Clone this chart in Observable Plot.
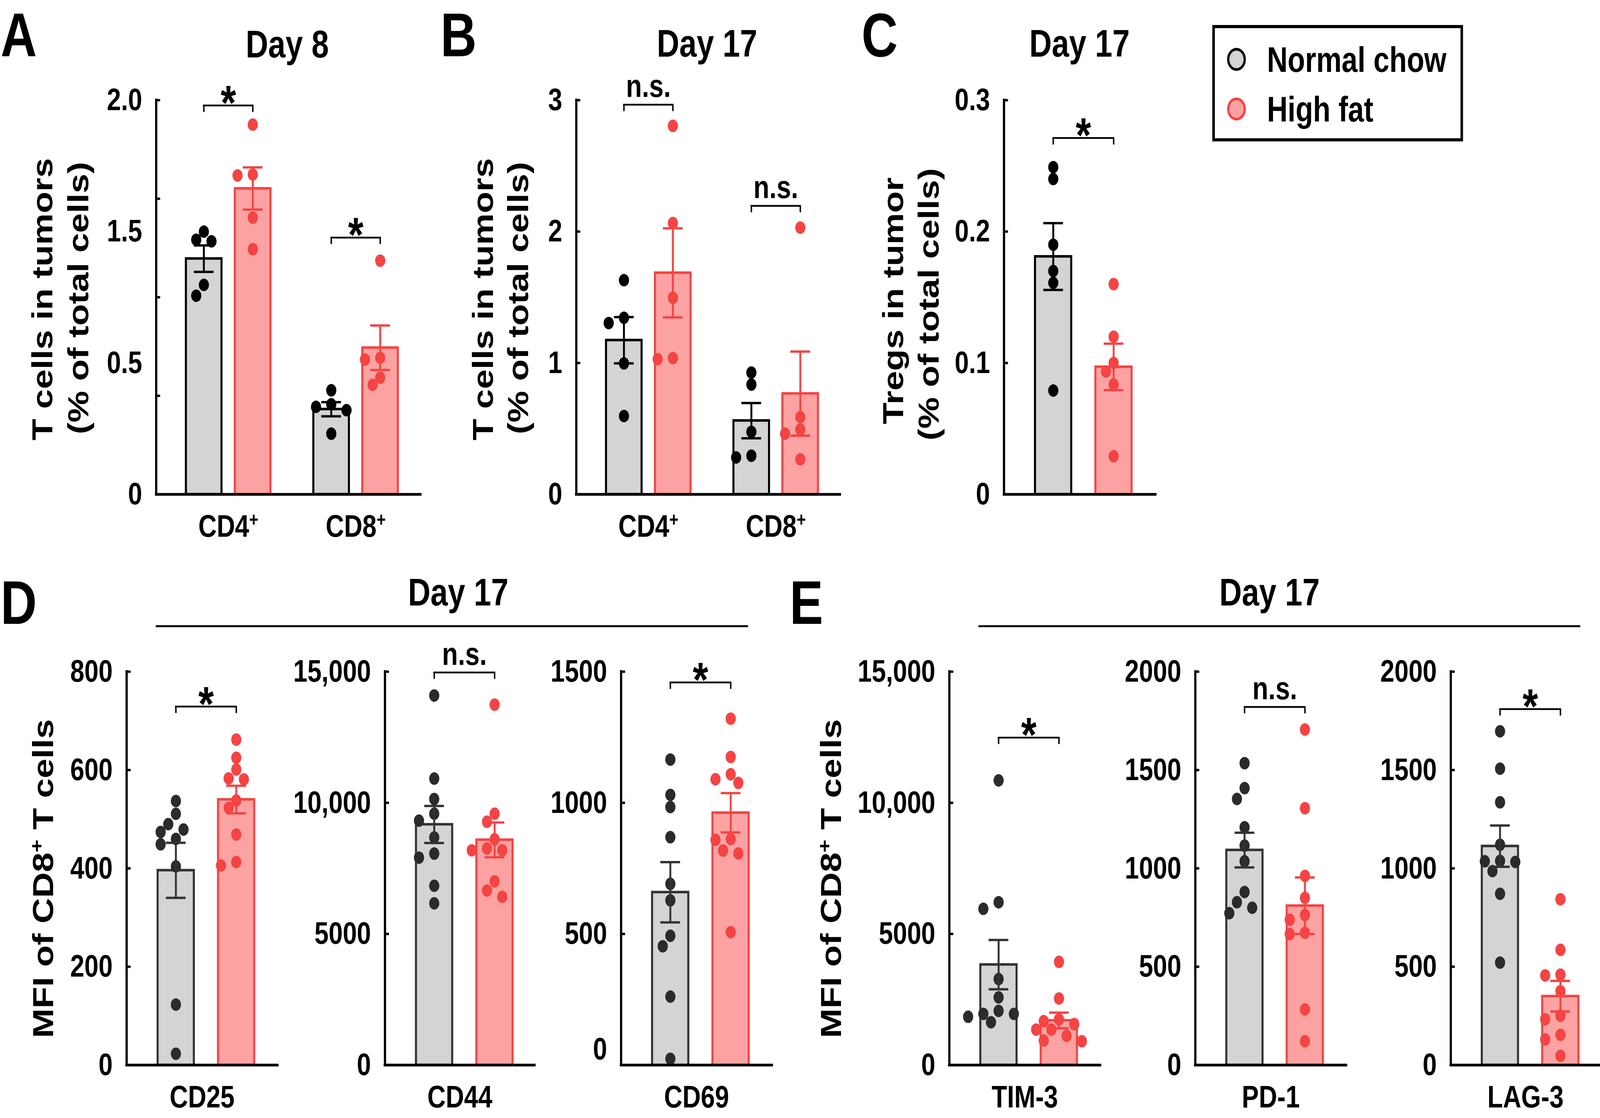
<!DOCTYPE html>
<html>
<head>
<meta charset="utf-8">
<script src="https://cdn.jsdelivr.net/npm/d3@7"></script>
<script src="https://cdn.jsdelivr.net/npm/@observablehq/plot@0.6"></script>
<style>
  html, body { margin: 0; padding: 0; background: #fff; overflow: hidden; }
  #wrap { position: relative; overflow: hidden; background: #fff; }
  #fig { position: absolute; left: 0; top: 0; width: 5035px; height: 2862px; overflow: hidden; background: #fff; transform-origin: 0 0; }
  #fig svg { position: absolute; }
</style>
</head>
<body>
<div id="wrap"><div id="fig"></div></div>
<script>
// ---------------- DATA ----------------
const diets = ["Normal chow", "High fat"];

// Panel A — Day 8, T cells in tumors (% of total cells)
const aGroups = ["CD4⁺", "CD8⁺"];
const aMeanNC = [1.196, 0.432];
const aMeanHF = [1.552, 0.744];
const aSemNC = [0.067, 0.036];
const aSemHF = [0.107, 0.113];
const aDotsNC = [[1.292, 1.333, 1.284, 1.063, 1.008], [0.528, 0.457, 0.444, 0.427, 0.308]];
const aDotsHF = [[1.876, 1.618, 1.623, 1.404, 1.244], [1.186, 0.684, 0.693, 0.592, 0.556]];
const aTickMarks = [0, 0.5, 1, 1.5, 2];
const aTickLabels = ["0", "0.5", "1.5", "2.0"];
const aSigLabels = ["*", "*"];
const aSigY = [1.973, 1.303];

// Panel B — Day 17, T cells in tumors (% of total cells)
const bGroups = ["CD4⁺", "CD8⁺"];
const bMeanNC = [1.173, 0.561];
const bMeanHF = [1.686, 0.767];
const bSemNC = [0.176, 0.134];
const bSemHF = [0.339, 0.320];
const bDotsNC = [[1.630, 1.304, 1.344, 0.997, 0.596], [0.927, 0.836, 0.476, 0.281, 0.294]];
const bDotsHF = [[2.805, 2.065, 1.496, 1.029, 1.037], [2.030, 0.588, 0.494, 0.462, 0.267]];
const bTicks = [0, 1, 2, 3];
const bTickLabels = ["0", "1", "2", "3"];
const bSigLabels = ["n.s.", "n.s."];
const bSigY = [2.966, 2.196];

// Panel C — Day 17, Tregs in tumor (% of total cells)
const cMeanNC = [0.181];
const cMeanHF = [0.097];
const cSemNC = [0.0254];
const cSemHF = [0.0177];
const cDotsNC = [[0.249, 0.240, 0.190, 0.170, 0.161, 0.079]];
const cDotsHF = [[0.160, 0.120, 0.100, 0.0935, 0.0836, 0.029]];
const cTicks = [0, 0.1, 0.2, 0.3];
const cTickLabels = ["0", "0.1", "0.2", "0.3"];
const cSigLabels = ["*"];
const cSigY = [0.2712];

// Panel D — Day 17, MFI of CD8+ T cells
const cd25MeanNC = [396], cd25MeanHF = [540], cd25SemNC = [56], cd25SemHF = [28];
const cd25DotsNC = [[511, 537, 479, 474, 490, 460, 449, 404, 123, 23]];
const cd25DotsHF = [[662, 625, 601, 581, 583, 538, 523, 469, 406, 413]];
const cd25Ticks = [0, 200, 400, 600, 800];
const cd25TickLabels = ["0", "200", "400", "600", "800"];
const cd25Sig = ["*"], cd25SigY = [729];

const cd44MeanNC = [9175], cd44MeanHF = [8588], cd44SemNC = [705], cd44SemHF = [663];
const cd44DotsNC = [[14093, 10925, 10144, 9586, 9321, 8679, 8065, 7911, 6837, 6167]];
const cd44DotsHF = [[13744, 9586, 9279, 8609, 8260, 8190, 8190, 7004, 6656, 6418]];
const cd44Ticks = [0, 5000, 10000, 15000];
const cd44TickLabels = ["0", "5000", "10,000", "15,000"];
const cd44Sig = ["n.s."], cd44SigY = [14970];

const cd69MeanNC = [659], cd69MeanHF = [962], cd69SemNC = [115], cd69SemHF = [75];
const cd69DotsNC = [[1165, 1030, 984, 869, 691, 628, 493, 453, 261, 24]];
const cd69DotsHF = [[1321, 1175, 1109, 1076, 1090, 862, 859, 818, 807, 507]];
const cd69Ticks = [0, 500, 1000, 1500];
const cd69TickLabels = ["0", "500", "1000", "1500"];
const cd69Sig = ["*"], cd69SigY = [1459];

// Panel E — Day 17, MFI of CD8+ T cells
const tim3MeanNC = [3830], tim3MeanHF = [1700], tim3SemNC = [942], tim3SemHF = [300];
const tim3DotsNC = [[10855, 6209, 5958, 3279, 2581, 2065, 1842, 1953, 1953, 1632]];
const tim3DotsHF = [[3935, 2539, 1744, 1674, 1563, 1353, 1353, 1116, 907, 935]];
const tim3Ticks = [0, 5000, 10000, 15000];
const tim3TickLabels = ["0", "5000", "10,000", "15,000"];
const tim3Sig = ["*"], tim3SigY = [12488];

const pd1MeanNC = [1093], pd1MeanHF = [810], pd1SemNC = [88], pd1SemHF = [144];
const pd1DotsNC = [[1535, 1408, 1353, 1209, 1116, 1036, 880, 828, 800, 772]];
const pd1DotsHF = [[1706, 1306, 962, 850, 763, 739, 673, 666, 283, 121]];
const pd1Ticks = [0, 500, 1000, 1500, 2000];
const pd1TickLabels = ["0", "500", "1000", "1500", "2000"];
const pd1Sig = ["n.s."], pd1SigY = [1821];

const lag3MeanNC = [1113], lag3MeanHF = [350], lag3SemNC = [105], lag3SemHF = [78];
const lag3DotsNC = [[1697, 1507, 1336, 1120, 1038, 1033, 1036, 986, 871, 521]];
const lag3DotsHF = [[843, 586, 460, 456, 376, 251, 233, 154, 130, 47]];
const lag3Ticks = [0, 500, 1000, 1500, 2000];
const lag3TickLabels = ["0", "500", "1000", "1500", "2000"];
const lag3Sig = ["*"], lag3SigY = [1810];

// ---------------- STYLE ----------------
const FONT = '"Liberation Sans", Arial, Helvetica, sans-serif';
const RED = "#f44444", PINK = "#fda2a2", GRAY = "#d4d4d4";
const FIG_W = 5035, FIG_H = 2862;
const fig = document.getElementById("fig");
const wrap = document.getElementById("wrap");
const SVGNS = "http://www.w3.org/2000/svg";

// map the 5035x2862 figure onto whatever CSS viewport the browser really has
function fit() {
  const de = document.documentElement;
  const vw = de.clientWidth || window.innerWidth || FIG_W;
  const vh = de.clientHeight || window.innerHeight || FIG_H;
  const sx = vw / FIG_W, sy = vh / FIG_H;
  fig.style.transform = `scale(${sx}, ${sy})`;
  wrap.style.width = vw + "px";
  wrap.style.height = vh + "px";
}
fit();
window.addEventListener("resize", fit);

// simple beeswarm: horizontal offsets (px) so that dots do not pile up
function swarm(vals, pyu, step = 24, dist = 30) {
  const order = d3.range(vals.length).sort((a, b) => vals[b] - vals[a]);
  const placed = [], out = new Array(vals.length);
  for (const i of order) {
    const y = vals[i] * pyu;
    for (let k = 0; k < 50; k++) {
      const c = k === 0 ? 0 : (k % 2 ? -1 : 1) * Math.ceil(k / 2) * step;
      if (placed.every(p => Math.hypot(p.x - c, p.y - y) >= dist)) {
        out[i] = c; placed.push({x: c, y}); break;
      }
    }
  }
  return out;
}

// turn "⁺" into a raised small "+"
function supPlus(svg) {
  svg.querySelectorAll("text, tspan").forEach(el => {
    if (el.children.length === 0 && el.textContent.includes("⁺")) {
      const parts = el.textContent.split("⁺");
      el.textContent = "";
      parts.forEach((pt, i) => {
        if (pt) el.appendChild(document.createTextNode(pt));
        if (i < parts.length - 1) {
          const t = document.createElementNS(SVGNS, "tspan");
          t.setAttribute("baseline-shift", "super");
          t.setAttribute("font-size", "62%");
          t.textContent = "+";
          el.appendChild(t);
        }
      });
    }
  });
}

function panel(cfg) {
  const {ax, end, top, bottom} = cfg.box;
  const W = end - ax, H = bottom - top;
  const ml = 440, mr = 10, mt = 150, mb = 130;
  const two = cfg.groups.length > 1;
  const unit = two ? 401 : 190, off = two ? 227 : 155, sep = 154;
  const barHalf = two ? 56 : 57, capHalf = 31;
  const xmin = -off / unit, xmax = (W - off) / unit;
  const pyu = H / cfg.yMax;
  const xc = (g, j) => two ? g + (j - 0.5) * sep / unit : j;
  const ncStroke = cfg.dark ? "#333333" : "#000000";
  const ncDot = cfg.dark ? "#2b2b2b" : "#000000";
  const strokes = [ncStroke, RED], fills = [GRAY, PINK], dotFills = [ncDot, RED];
  const bars = [], dots = [];
  cfg.groups.forEach((name, g) => {
    diets.forEach((diet, j) => {
      const m = cfg.means[j][g], s = cfg.sems[j][g], cx = xc(g, j);
      bars.push({group: name, diet, x: cx, x1: cx - barHalf / unit, x2: cx + barHalf / unit,
        c1: cx - capHalf / unit, c2: cx + capHalf / unit, mean: m, lo: m - s, hi: m + s,
        fill: fills[j], stroke: strokes[j]});
      const vals = cfg.dots[j][g];
      const offs = swarm(vals, pyu);
      vals.forEach((v, k) => dots.push({group: name, diet, x: cx + offs[k] / unit, y: v, fill: dotFills[j]}));
    });
  });
  const drop = 17 / pyu;
  const sig = cfg.sigLabels.map((label, g) => ({label, y: cfg.sigY[g], y0: cfg.sigY[g] - drop,
    x1: xc(g, 0), x2: xc(g, 1), xm: (xc(g, 0) + xc(g, 1)) / 2}));
  const sigEnds = sig.flatMap(s => [{x: s.x1, y: s.y, y0: s.y0}, {x: s.x2, y: s.y, y0: s.y0}]);
  const labelVals = cfg.labelVals.filter(v => !(cfg.zeroShift && v === 0));

  const marks = [
    Plot.rect(bars, {x1: "x1", x2: "x2", y1: 0, y2: "mean", fill: "fill", stroke: "stroke", strokeWidth: 6.5}),
    Plot.dot(dots, {x: "x", y: "y", r: 16, fill: "fill"}),
    Plot.ruleX(bars, {x: "x", y1: "lo", y2: "hi", stroke: "stroke", strokeWidth: 6}),
    Plot.ruleY(bars, {y: "hi", x1: "c1", x2: "c2", stroke: "stroke", strokeWidth: 6}),
    Plot.ruleY(bars, {y: "lo", x1: "c1", x2: "c2", stroke: "stroke", strokeWidth: 6}),
    Plot.ruleY(sig, {y: "y", x1: "x1", x2: "x2", stroke: "#000", strokeWidth: 4.5, strokeLinecap: "square"}),
    Plot.ruleX(sigEnds, {x: "x", y1: "y", y2: "y0", stroke: "#000", strokeWidth: 4.5}),
    Plot.text(sig.filter(s => s.label === "*"), {x: "xm", y: "y", text: "label", fontSize: 125, lineAnchor: "bottom", dy: 36}),
    Plot.text(sig.filter(s => s.label !== "*"), {x: "xm", y: "y", text: "label", fontSize: 82, lineAnchor: "bottom", dy: -20}),
    Plot.ruleY([0], {stroke: "#000", strokeWidth: 7, strokeLinecap: "square"}),
    Plot.ruleX([xmin], {stroke: "#000", strokeWidth: 7, strokeLinecap: "square"}),
    Plot.tickY(cfg.tickMarks, {stroke: "#000", strokeWidth: 6, insetRight: W - 13})
  ];
  if (cfg.zeroShift) {
    marks.push(Plot.text([0], {y: d => d, text: () => "0", frameAnchor: "left", textAnchor: "end", dx: -44, dy: cfg.zeroShift}));
  }
  (cfg.titles || []).forEach(t => {
    marks.push(Plot.text([t.text], {text: d => d, frameAnchor: "left", rotate: -90, textAnchor: "middle",
      lineAnchor: "bottom", dx: -t.off, dy: t.dy, fontSize: 91}));
  });
  if (!two && cfg.xLabel) {
    marks.push(Plot.text([cfg.xLabel], {text: d => d, frameAnchor: "bottom", lineAnchor: "top", dy: 52}));
  }

  const svg = Plot.plot({
    width: ml + W + mr, height: mt + H + mb,
    marginLeft: ml, marginRight: mr, marginTop: mt, marginBottom: mb,
    x: two
      ? {domain: [xmin, xmax], ticks: [0, 1], tickFormat: i => cfg.groups[i], tickSize: 0, tickPadding: 52, label: null}
      : {domain: [xmin, xmax], axis: null},
    y: {domain: [0, cfg.yMax], ticks: labelVals,
        tickFormat: v => cfg.labels[cfg.labelVals.indexOf(v)], tickSize: 0, tickPadding: 44, label: null},
    color: {type: "identity"},
    style: {fontFamily: FONT, fontSize: "80px", fontWeight: "bold", background: "none",
            overflow: "visible", color: "#000", maxWidth: "none"},
    marks
  });
  supPlus(svg);
  svg.style.position = "absolute";
  svg.style.left = (ax - ml) + "px";
  svg.style.top = (top - mt) + "px";
  fig.appendChild(svg);
}

// ---------------- OVERLAY: panel letters, headings, legend ----------------
const ov = d3.select(fig).append("svg").attr("width", FIG_W).attr("height", FIG_H)
  .style("left", "0px").style("top", "0px").style("overflow", "visible")
  .attr("font-family", FONT).attr("font-weight", "bold");
[["A", 2, 144], ["B", 1386, 144], ["C", 2711, 144], ["D", 2, 1597], ["E", 2485, 1597]]
  .forEach(([t, x, y]) => ov.append("text").attr("x", x).attr("y", y).attr("font-size", 158).text(t));
[["Day 8", 904, 147], ["Day 17", 2225, 145], ["Day 17", 3397, 145], ["Day 17", 1442, 1550], ["Day 17", 3995, 1550]]
  .forEach(([t, x, y]) => ov.append("text").attr("x", x).attr("y", y).attr("font-size", 98).attr("text-anchor", "middle").text(t));
[[490, 2354], [3079, 4973]].forEach(([x1, x2]) =>
  ov.append("line").attr("x1", x1).attr("x2", x2).attr("y1", 1603).attr("y2", 1603).attr("stroke", "#000").attr("stroke-width", 5));
// legend
ov.append("rect").attr("x", 3819).attr("y", 68).attr("width", 781).attr("height", 290)
  .attr("fill", "#fff").attr("stroke", "#000").attr("stroke-width", 8);
const legFill = [GRAY, PINK], legStroke = ["#000", RED], legY = [152, 279];
diets.forEach((d, j) => {
  ov.append("circle").attr("cx", 3891).attr("cy", legY[j]).attr("r", 26)
    .attr("fill", legFill[j]).attr("stroke", legStroke[j]).attr("stroke-width", 7);
  ov.append("text").attr("x", 3987).attr("y", legY[j] + 32).attr("font-size", 90).text(d);
});

// ---------------- PANELS ----------------
const TOP = {top: 256, bottom: 1265}, BOT = {top: 1719, bottom: 2726};
const aLabelVals = aTickLabels.map((_, i) => i * 2 / (aTickLabels.length - 1));

panel({box: {ax: 491, end: 1323, ...TOP}, groups: aGroups, means: [aMeanNC, aMeanHF], sems: [aSemNC, aSemHF],
  dots: [aDotsNC, aDotsHF], yMax: 2, tickMarks: aTickMarks, labelVals: aLabelVals, labels: aTickLabels,
  sigLabels: aSigLabels, sigY: aSigY,
  titles: [{text: "T cells in tumors", off: 327, dy: 5}, {text: "(% of total cells)", off: 214, dy: 2}]});

panel({box: {ax: 1813, end: 2643, ...TOP}, groups: bGroups, means: [bMeanNC, bMeanHF], sems: [bSemNC, bSemHF],
  dots: [bDotsNC, bDotsHF], yMax: 3, tickMarks: bTicks, labelVals: bTicks, labels: bTickLabels,
  sigLabels: bSigLabels, sigY: bSigY,
  titles: [{text: "T cells in tumors", off: 262, dy: 5}, {text: "(% of total cells)", off: 152, dy: 2}]});

panel({box: {ax: 3159, end: 3636, ...TOP}, groups: ["Tregs"], means: [cMeanNC, cMeanHF], sems: [cSemNC, cSemHF],
  dots: [cDotsNC, cDotsHF], yMax: 0.3, tickMarks: cTicks, labelVals: cTicks, labels: cTickLabels,
  sigLabels: cSigLabels, sigY: cSigY,
  titles: [{text: "Tregs in tumor", off: 318, dy: 9}, {text: "(% of total cells)", off: 206, dy: 18}]});

panel({box: {ax: 398, end: 873, ...BOT}, groups: ["CD25"], xLabel: "CD25", dark: true,
  means: [cd25MeanNC, cd25MeanHF], sems: [cd25SemNC, cd25SemHF], dots: [cd25DotsNC, cd25DotsHF],
  yMax: 800, tickMarks: cd25Ticks, labelVals: cd25Ticks, labels: cd25TickLabels, sigLabels: cd25Sig, sigY: cd25SigY,
  titles: [{text: "MFI of CD8⁺ T cells", off: 231, dy: 26}]});

panel({box: {ax: 1211, end: 1682, ...BOT}, groups: ["CD44"], xLabel: "CD44", dark: true,
  means: [cd44MeanNC, cd44MeanHF], sems: [cd44SemNC, cd44SemHF], dots: [cd44DotsNC, cd44DotsHF],
  yMax: 15000, tickMarks: cd44Ticks, labelVals: cd44Ticks, labels: cd44TickLabels, sigLabels: cd44Sig, sigY: cd44SigY});

panel({box: {ax: 1954, end: 2429, ...BOT}, groups: ["CD69"], xLabel: "CD69", dark: true, zeroShift: -40,
  means: [cd69MeanNC, cd69MeanHF], sems: [cd69SemNC, cd69SemHF], dots: [cd69DotsNC, cd69DotsHF],
  yMax: 1500, tickMarks: cd69Ticks, labelVals: cd69Ticks, labels: cd69TickLabels, sigLabels: cd69Sig, sigY: cd69SigY});

panel({box: {ax: 2987, end: 3462, ...BOT}, groups: ["TIM-3"], xLabel: "TIM-3", dark: true,
  means: [tim3MeanNC, tim3MeanHF], sems: [tim3SemNC, tim3SemHF], dots: [tim3DotsNC, tim3DotsHF],
  yMax: 15000, tickMarks: tim3Ticks, labelVals: tim3Ticks, labels: tim3TickLabels, sigLabels: tim3Sig, sigY: tim3SigY,
  titles: [{text: "MFI of CD8⁺ T cells", off: 341, dy: 26}]});

panel({box: {ax: 3761, end: 4236, ...BOT}, groups: ["PD-1"], xLabel: "PD-1", dark: true,
  means: [pd1MeanNC, pd1MeanHF], sems: [pd1SemNC, pd1SemHF], dots: [pd1DotsNC, pd1DotsHF],
  yMax: 2000, tickMarks: pd1Ticks, labelVals: pd1Ticks, labels: pd1TickLabels, sigLabels: pd1Sig, sigY: pd1SigY});

panel({box: {ax: 4565, end: 5035, ...BOT}, groups: ["LAG-3"], xLabel: "LAG-3", dark: true,
  means: [lag3MeanNC, lag3MeanHF], sems: [lag3SemNC, lag3SemHF], dots: [lag3DotsNC, lag3DotsHF],
  yMax: 2000, tickMarks: lag3Ticks, labelVals: lag3Ticks, labels: lag3TickLabels, sigLabels: lag3Sig, sigY: lag3SigY});
</script>
</body>
</html>
